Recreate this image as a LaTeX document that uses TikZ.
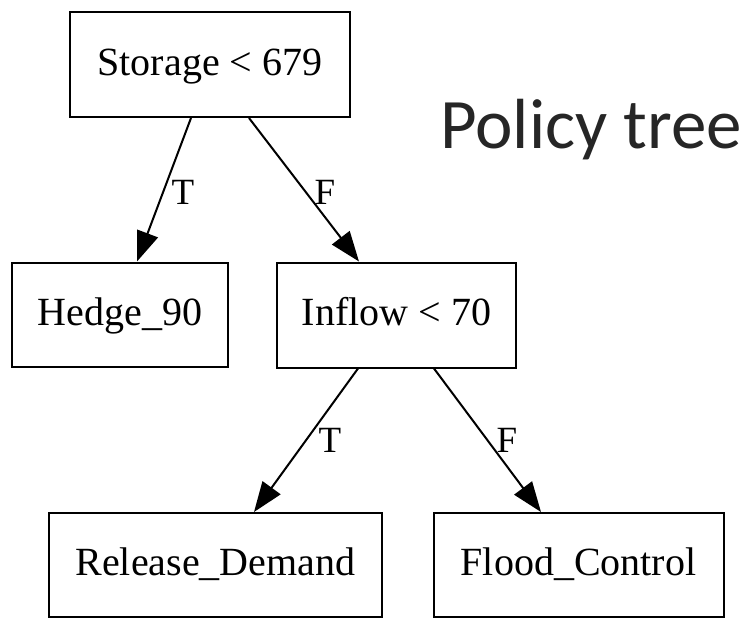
\documentclass[tikz,border=0pt]{standalone}
\usepackage{fontspec}
\setmainfont{Liberation Serif}
\newfontfamily\titlefont{Carlito}
\usetikzlibrary{arrows.meta}
\definecolor{titlegray}{HTML}{262626}
\tikzset{
  treebox/.style={draw=black, line width=2pt, rectangle, inner sep=0pt,
    font=\fontsize{40}{46}\selectfont, text height=27pt, text depth=6pt},
  branch/.style={draw=black, line width=2pt,
    -{Triangle[length=30pt, width=22pt]}},
  branchlabel/.style={inner sep=0pt, font=\fontsize{37}{42}\selectfont},
}
\begin{document}
\begin{tikzpicture}[x=1pt, y=-1pt]
  \useasboundingbox (0,0) rectangle (756,619);

  % decision nodes and leaves
  \node[treebox, minimum width=280pt, minimum height=105pt] (st) at (210,64.5) {Storage < 679};
  \node[treebox, minimum width=216pt, minimum height=104pt] (he) at (120,314.5) {Hedge\_90};
  \node[treebox, minimum width=239pt, minimum height=105pt] (in) at (396.5,315) {Inflow < 70};
  \node[treebox, minimum width=333pt, minimum height=104pt] (rd) at (215.5,565) {Release\_Demand};
  \node[treebox, minimum width=290pt, minimum height=104pt] (fc) at (578.5,565) {Flood\_Control};

  % branches
  \draw[branch] ([xshift=-19pt]st.south) -- ([xshift=17pt]he.north);
  \draw[branch] ([xshift=39pt]st.south) -- ([xshift=-37.5pt]in.north);
  \draw[branch] ([xshift=-38.5pt]in.south) -- ([xshift=38.5pt]rd.north);
  \draw[branch] ([xshift=37.5pt]in.south) -- ([xshift=-37.5pt]fc.north);

  % branch labels
  \node[branchlabel] (lt1) at (183,192) {T};
  \node[branchlabel] (lf1) at (325,192) {F};
  \node[branchlabel] (lt2) at (330,440) {T};
  \node[branchlabel] (lf2) at (507,440) {F};

  % title
  \node[anchor=base west, inner sep=0pt, text=titlegray,
        font=\titlefont\fontsize{71}{80}\selectfont] (title) at (440,148) {Policy tree};
\end{tikzpicture}
\end{document}
